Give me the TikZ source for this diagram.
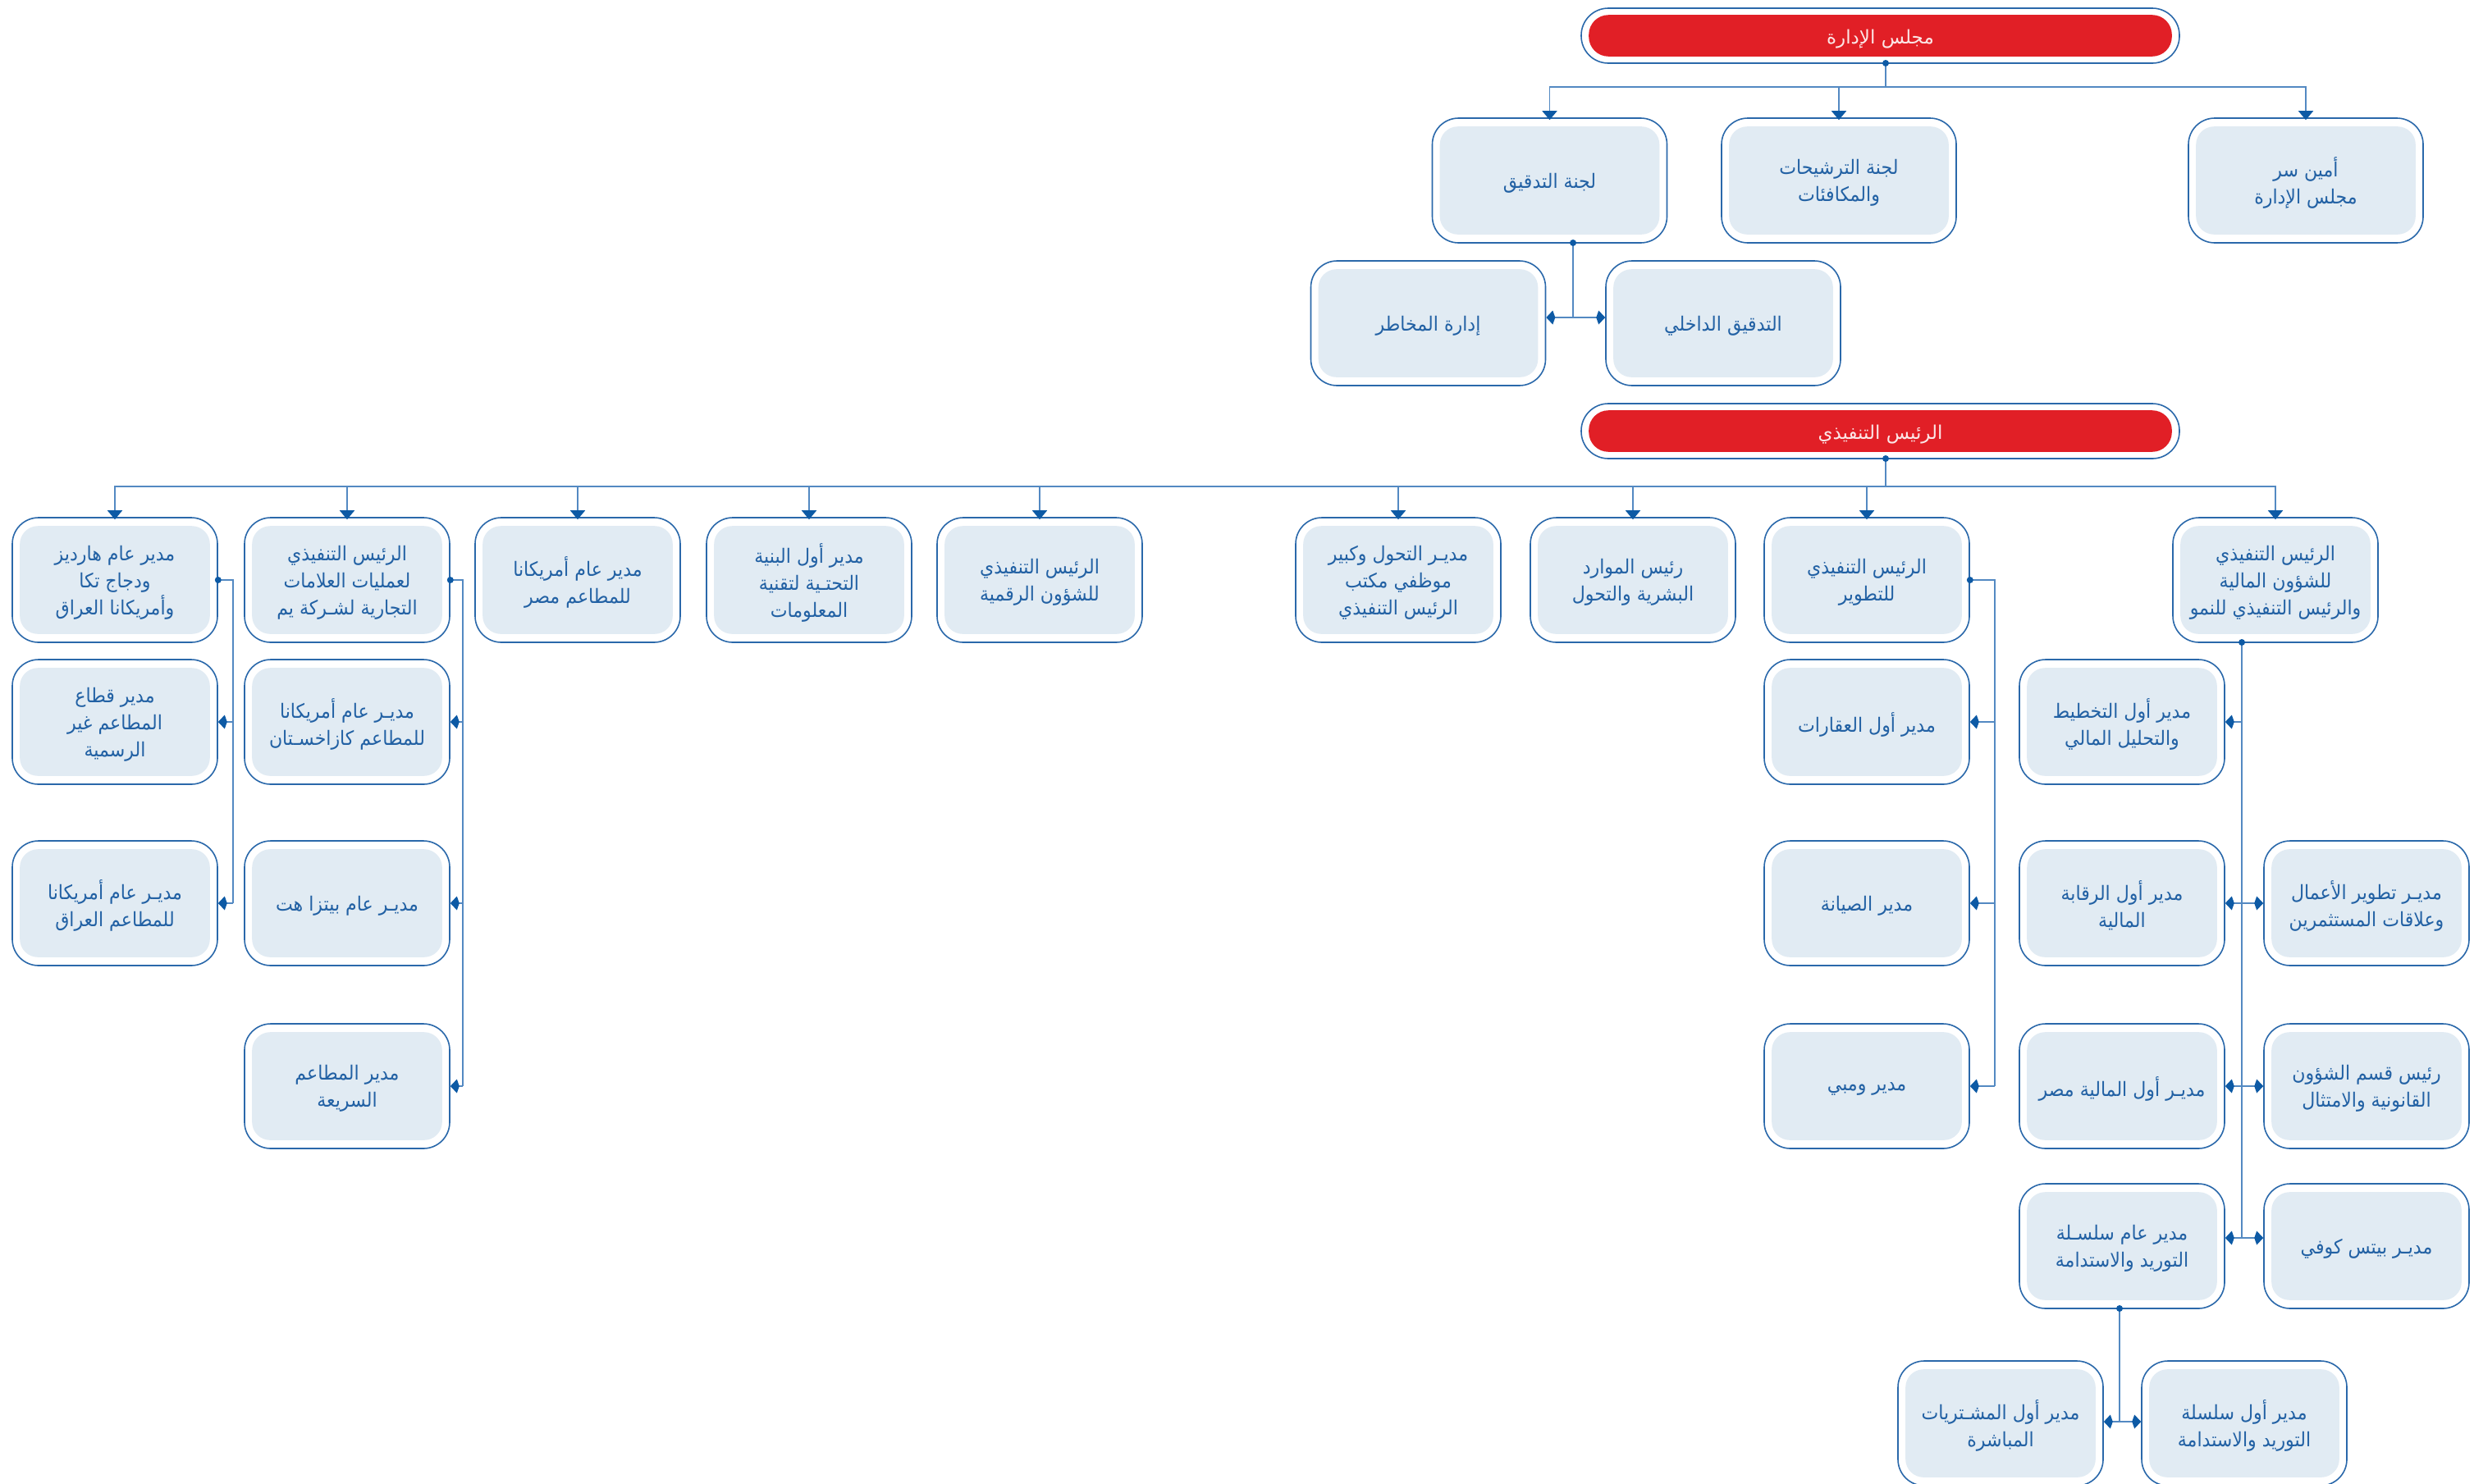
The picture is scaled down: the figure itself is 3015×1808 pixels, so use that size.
\documentclass[tikz,border=0pt]{standalone}
\usepackage{fontspec}
\usetikzlibrary{arrows.meta}
\TeXXeTstate=1
\newfontfamily\arabicfont[Script=Arabic,FakeStretch=0.92]{DejaVu Sans}
\newfontfamily\arabicwide[Script=Arabic]{DejaVu Sans}
\newcommand\arl[1]{\beginR #1\endR}
\definecolor{redbox}{HTML}{E11F26}
\definecolor{innerfill}{HTML}{E1EBF3}
\definecolor{borderblue}{HTML}{2A68AA}
\definecolor{connblue}{HTML}{5389C2}
\definecolor{tipblue}{HTML}{0D5AA5}
\definecolor{txtblue}{HTML}{2261A4}
\definecolor{redtxt}{HTML}{FCE6E6}
\tikzset{
  outerbox/.style={draw=borderblue, line width=1.6pt, rounded corners=32pt, fill=white,
    minimum width=250pt, minimum height=152pt, inner sep=0pt},
  wideouter/.style={outerbox, minimum width=286pt},
  pillouter/.style={draw=borderblue, line width=1.6pt, rounded corners=33pt, fill=white,
    minimum width=729pt, minimum height=67pt, inner sep=0pt},
  innerbox/.style={fill=innerfill, rounded corners=22pt},
  redfill/.style={fill=redbox, rounded corners=24pt},
  btext/.style={font=\arabicfont\fontsize{24}{33}\selectfont, text=txtblue, align=center, inner sep=0pt, yshift=-3pt},
  rtext/.style={font=\arabicwide\fontsize{23}{30}\selectfont, text=redtxt, align=center, inner sep=0pt, yshift=-4pt},
  conn/.style={draw=connblue, line width=1.8pt},
  arr/.style={-{Triangle[length=11pt,width=18pt,color=tipblue,fill=tipblue]}, shorten >=-3pt},
  sarr/.style={-{Kite[length=11pt,width=17pt,inset=3pt,color=tipblue,fill=tipblue]}},
  biarr/.style={{Kite[length=11pt,width=17pt,inset=3pt,color=tipblue,fill=tipblue]}-{Kite[length=11pt,width=17pt,inset=3pt,color=tipblue,fill=tipblue]}},
  jdot/.style={circle, fill=tipblue, inner sep=0pt, minimum size=8pt},
}
\newcommand\obox[5][outerbox]{%
  \node[#1] (#2) at (#3,#4) {};
  \fill[innerbox] ([shift={(10pt,-11pt)}]#2.north west) rectangle ([shift={(-10pt,11pt)}]#2.south east);
  \node[btext] (#2-t) at (#2.center) {#5};
}
\newcommand\pbox[4]{%
  \node[pillouter] (#1) at (#2,#3) {};
  \fill[redfill] ([shift={(10pt,-9pt)}]#1.north west) rectangle ([shift={(-10pt,9pt)}]#1.south east);
  \node[rtext] (#1-t) at (#1.center) {#4};
}
\begin{document}
\begin{tikzpicture}[x=1pt,y=-1pt]
\useasboundingbox (0,0) rectangle (3015,1808);
\clip (0,0) rectangle (3015,1808);
\fill[white] (0,0) rectangle (3015,1808);

% ---------- board ----------
\pbox{board}{2291.5}{43.5}{\arl{مجلس الإدارة}}
\obox[wideouter]{audit}{1888.5}{220}{\arl{لجنة التدقيق}}
\obox[wideouter]{nomin}{2241}{220}{\arl{لجنة الترشيحات}\\\arl{والمكافئات}}
\obox[wideouter]{secr}{2810}{220}{\arl{أمين سر}\\\arl{مجلس الإدارة}}
\obox[wideouter]{risk}{1740.5}{394}{\arl{إدارة المخاطر}}
\obox[wideouter]{intaud}{2100}{394}{\arl{التدقيق الداخلي}}

\coordinate (bdot) at (2298,77);
\coordinate (bj) at (2298,106);
\draw[conn] (bdot) -- (bj);
\draw[conn,arr] (bj) -| (audit.north);
\draw[conn,arr] (bj) -| (nomin.north);
\draw[conn,arr] (bj) -| (secr.north);
\node[jdot] at (bdot) {};

\coordinate (adot) at (1917,296);
\coordinate (aj) at (1917,387);
\draw[conn] (adot) -- (aj);
\draw[conn,biarr] (aj -| risk.east) -- (aj -| intaud.west);
\node[jdot] at (adot) {};

% ---------- CEO ----------
\pbox{ceo}{2291.5}{525.5}{\arl{الرئيس التنفيذي}}

\obox{hard}{140}{707}{\arl{مدير عام هارديز}\\\arl{ودجاج تكا}\\\arl{وأمريكانا العراق}}
\obox{yum}{423}{707}{\arl{الرئيس التنفيذي}\\\arl{لعمليات العلامات}\\\arl{التجارية لشـركة يم}}
\obox{egy}{704}{707}{\arl{مدير عام أمريكانا}\\\arl{للمطاعم مصر}}
\obox{itinf}{986}{707}{\arl{مدير أول البنية}\\\arl{التحتـية لتقنية}\\\arl{المعلومات}}
\obox{digi}{1267}{707}{\arl{الرئيس التنفيذي}\\\arl{للشؤون الرقمية}}
\obox{trans}{1704}{707}{\arl{مديـر التحول وكبير}\\\arl{موظفي مكتب}\\\arl{الرئيس التنفيذي}}
\obox{hr}{1990}{707}{\arl{رئيس الموارد}\\\arl{البشرية والتحول}}
\obox{dev}{2275}{707}{\arl{الرئيس التنفيذي}\\\arl{للتطوير}}
\obox{cfo}{2773}{707}{\arl{الرئيس التنفيذي}\\\arl{للشؤون المالية}\\\arl{والرئيس التنفيذي للنمو}}

\coordinate (cdot) at (2298,559);
\coordinate (cj) at (2298,593);
\draw[conn] (cdot) -- (cj);
\foreach \b in {hard,yum,egy,itinf,digi,trans,hr,dev,cfo}
  \draw[conn,arr] (cj) -| (\b.north);
\node[jdot] at (cdot) {};

% ---------- Hardee's subtree ----------
\obox{infor}{140}{880}{\arl{مدير قطاع}\\\arl{المطاعم غير}\\\arl{الرسمية}}
\obox{iraq}{140}{1101}{\arl{مديـر عام أمريكانا}\\\arl{للمطاعم العراق}}
\coordinate (hj) at (284,707);
\draw[conn] (hard.east) -- (hj) -- (hj |- iraq.east);
\draw[conn,sarr] (hj |- infor.east) -- (infor.east);
\draw[conn,sarr] (hj |- iraq.east) -- (iraq.east);
\node[jdot] at (hard.east) {};

% ---------- Yum subtree ----------
\obox{kaz}{423}{880}{\arl{مديـر عام أمريكانا}\\\arl{للمطاعم كازاخسـتان}}
\obox{pizza}{423}{1101}{\arl{مديـر عام بيتزا هت}}
\obox{qsr}{423}{1324}{\arl{مدير المطاعم}\\\arl{السريعة}}
\coordinate (yj) at (564,707);
\draw[conn] (yum.east) -- (yj) -- (yj |- qsr.east);
\draw[conn,sarr] (yj |- kaz.east) -- (kaz.east);
\draw[conn,sarr] (yj |- pizza.east) -- (pizza.east);
\draw[conn,sarr] (yj |- qsr.east) -- (qsr.east);
\node[jdot] at (yum.east) {};

% ---------- Development subtree ----------
\obox{realest}{2275}{880}{\arl{مدير أول العقارات}}
\obox{maint}{2275}{1101}{\arl{مدير الصيانة}}
\obox{wimpy}{2275}{1324}{\arl{مدير ومبي}}
\coordinate (dj) at (2431,707);
\draw[conn] (dev.east) -- (dj) -- (dj |- wimpy.east);
\draw[conn,sarr] (dj |- realest.east) -- (realest.east);
\draw[conn,sarr] (dj |- maint.east) -- (maint.east);
\draw[conn,sarr] (dj |- wimpy.east) -- (wimpy.east);
\node[jdot] at (dev.east) {};

% ---------- CFO subtree ----------
\obox{plan}{2586}{880}{\arl{مدير أول التخطيط}\\\arl{والتحليل المالي}}
\obox{ctrl}{2586}{1101}{\arl{مدير أول الرقابة}\\\arl{المالية}}
\obox{fegy}{2586}{1324}{\arl{مديـر أول المالية مصر}}
\obox{supply}{2586}{1519}{\arl{مدير عام سلسـلة}\\\arl{التوريد والاستدامة}}
\obox{bizdev}{2884}{1101}{\arl{مديـر تطوير الأعمال}\\\arl{وعلاقات المستثمرين}}
\obox{legal}{2884}{1324}{\arl{رئيس قسم الشؤون}\\\arl{القانونية والامتثال}}
\obox{peets}{2884}{1519}{\arl{مديـر بيتس كوفي}}
\coordinate (fdot) at (2732,783);
\coordinate (fj) at (2732,1509);
\draw[conn] (fdot) -- (fj);
\draw[conn,sarr] (fdot |- plan.east) -- (plan.east);
\draw[conn,biarr] (ctrl.east) -- (bizdev.west);
\draw[conn,biarr] (fegy.east) -- (legal.west);
\draw[conn,biarr] (fj -| supply.east) -- (fj -| peets.west);
\node[jdot] at (fdot) {};

% ---------- Supply chain subtree ----------
\obox{procure}{2438}{1735}{\arl{مدير أول المشـتريات}\\\arl{المباشرة}}
\obox{scm}{2735}{1735}{\arl{مدير أول سلسلة}\\\arl{التوريد والاستدامة}}
\coordinate (sdot) at (2583,1595);
\coordinate (sj) at (2583,1733);
\draw[conn] (sdot) -- (sj);
\draw[conn,biarr] (sj -| procure.east) -- (sj -| scm.west);
\node[jdot] at (sdot) {};
\end{tikzpicture}
\end{document}
